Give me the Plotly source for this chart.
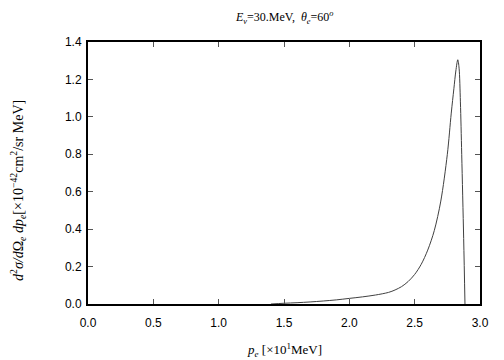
import plotly.graph_objects as go

p_e = [1.40, 1.50, 1.60, 1.70, 1.80, 1.90, 2.00, 2.10, 2.20, 2.30, 2.35, 2.40, 2.45, 2.50, 2.55,
       2.60, 2.65, 2.70, 2.75, 2.78, 2.80, 2.815, 2.83, 2.84, 2.85, 2.86, 2.875, 2.885]
xsec = [0.000, 0.004, 0.007, 0.011, 0.016, 0.022, 0.030, 0.038, 0.048, 0.062, 0.075, 0.093, 0.120,
        0.158, 0.212, 0.288, 0.392, 0.550, 0.800, 1.020, 1.150, 1.245, 1.305, 1.260, 1.080,
        0.800, 0.350, 0.000]

x_ticks = [0.0, 0.5, 1.0, 1.5, 2.0, 2.5, 3.0]
y_ticks = [0.0, 0.2, 0.4, 0.6, 0.8, 1.0, 1.2, 1.4]

title_text = "<i>E<sub>ν</sub></i>=30.MeV,  <i>θ<sub>e</sub></i>=60<sup><i>o</i></sup>"
x_title = "<i>p<sub>e</sub></i> [×10<sup>1</sup>MeV]"
y_title = ("<i>d</i><sup>2</sup><i>σ/d</i>Ω<sub><i>e</i></sub> <i>dp<sub>e</sub></i>"
           "[×10<sup>−42</sup>cm<sup>2</sup>/sr MeV]")

serif = "Liberation Serif, Times New Roman, serif"
sans = "Liberation Sans, Arial, sans-serif"

fig = go.Figure()
fig.add_trace(go.Scatter(x=p_e, y=xsec, mode="lines",
                         line=dict(color="#404040", width=1, shape="spline", smoothing=0.9),
                         showlegend=False, hoverinfo="skip"))

axis_common = dict(showgrid=False, zeroline=False, showline=True, linecolor="black",
                   linewidth=2, mirror="ticks", ticks="inside", ticklen=5,
                   tickcolor="#555555", tickwidth=1, automargin=False,
                   tickfont=dict(family=sans, size=12, color="black"))

fig.update_xaxes(range=[0, 3.0], tickvals=x_ticks,
                 ticktext=[f"{v:.1f}" for v in x_ticks], ticklabelstandoff=7,
                 **axis_common)
fig.update_yaxes(range=[0, 1.4], tickvals=y_ticks,
                 ticktext=[f"{v:.1f}" for v in y_ticks], ticklabelstandoff=2,
                 **axis_common)

fig.update_layout(
    width=496, height=352,
    margin=dict(l=80, r=24, t=34, b=56),
    paper_bgcolor="white", plot_bgcolor="white",
    annotations=[
        dict(text=title_text, xref="paper", yref="paper", x=0.5, y=1.0, yshift=25,
             xanchor="center", yanchor="middle", showarrow=False,
             font=dict(family=serif, size=12, color="black")),
        dict(text=x_title, xref="paper", yref="paper", x=0.5, y=0, yshift=-46,
             xanchor="center", yanchor="middle", showarrow=False,
             font=dict(family=serif, size=13, color="black")),
        dict(text=y_title, xref="paper", yref="paper", x=0, y=0.5, xshift=-70, yshift=-18,
             xanchor="center", yanchor="middle", showarrow=False, textangle=-90,
             font=dict(family=serif, size=14, color="black")),
    ],
)

fig.write_html("out.html")
